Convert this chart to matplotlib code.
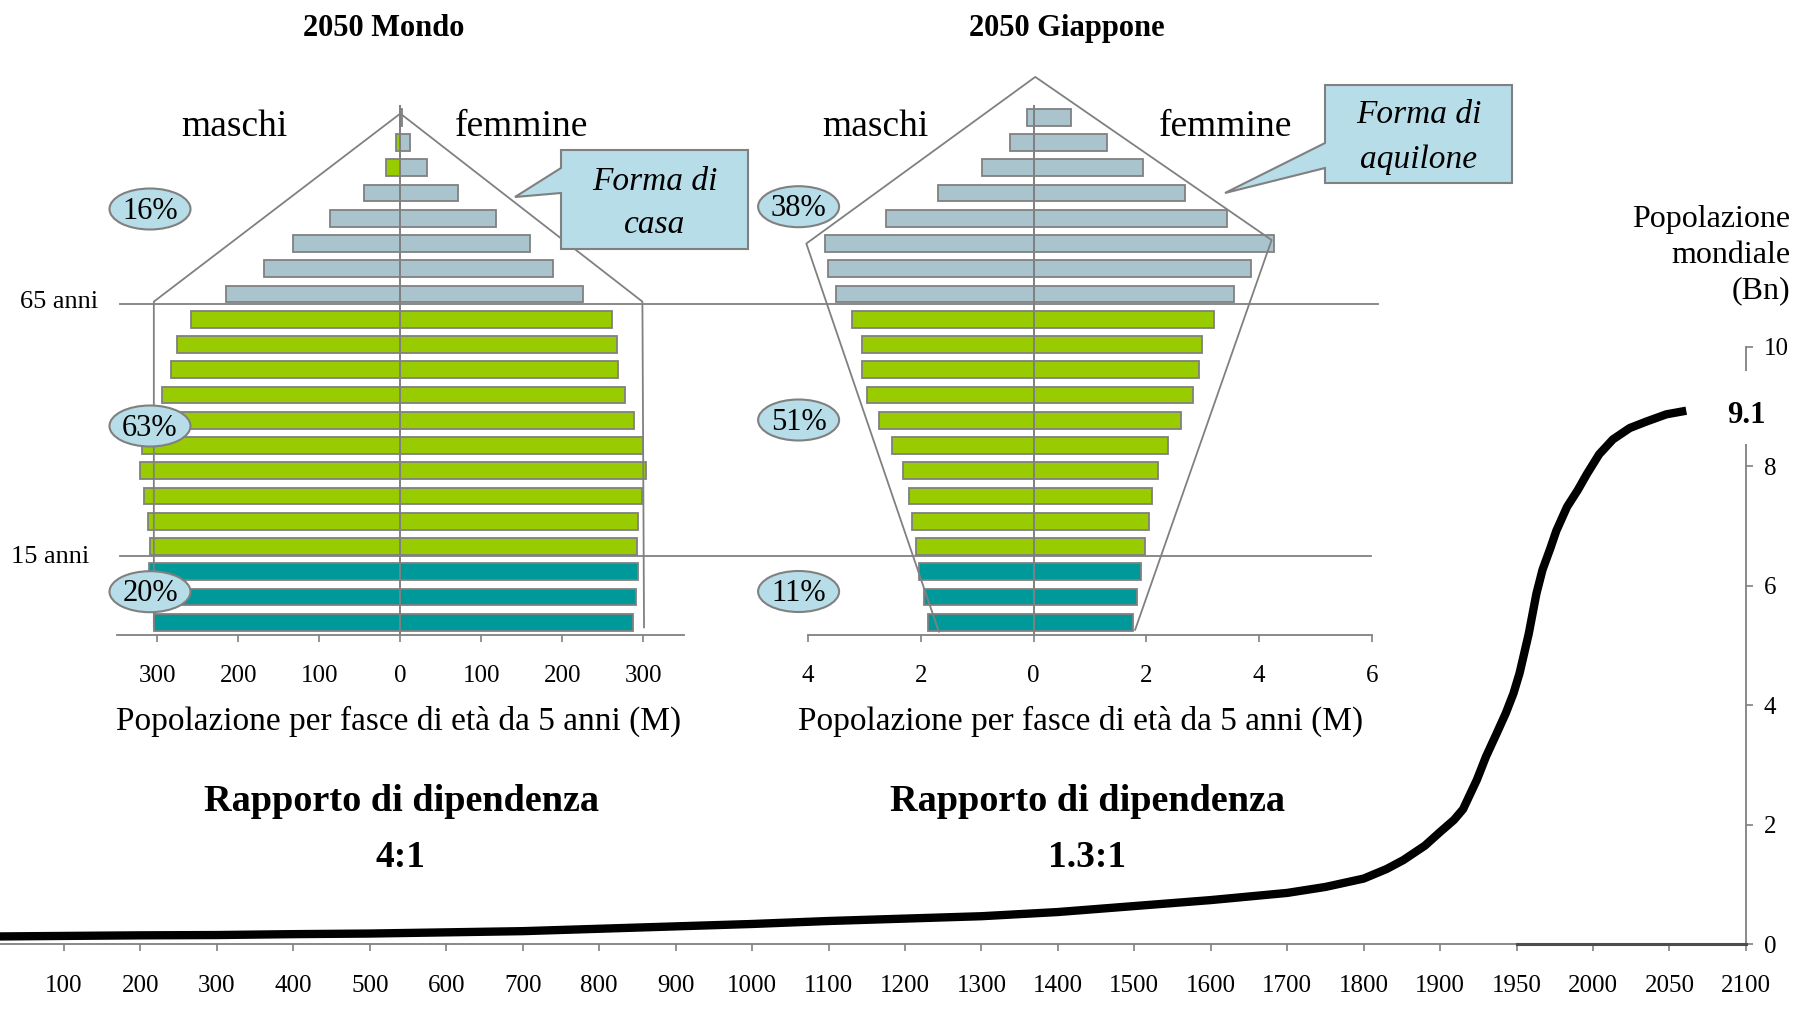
import numpy as np
import matplotlib
matplotlib.use('Agg')
import matplotlib.pyplot as plt
from matplotlib.patches import Ellipse, Polygon, Rectangle
from matplotlib.lines import Line2D
from matplotlib import transforms

plt.rcParams['font.family'] = ['Liberation Serif', 'DejaVu Serif']

# fasce di eta di 5 anni, dal basso (0-4) verso l'alto (100+)
fasce = ['0-4', '5-9', '10-14', '15-19', '20-24', '25-29', '30-34', '35-39',
         '40-44', '45-49', '50-54', '55-59', '60-64', '65-69', '70-74',
         '75-79', '80-84', '85-89', '90-94', '95-99', '100+']

# 2050 Mondo (milioni)
mondo_maschi = [304, 305, 310, 309, 312, 317, 322, 319, 305, 295, 283, 276,
                259, 215, 169, 132, 87, 45, 18, 5.5, 1]
mondo_femmine = [287, 291, 293, 292, 294, 299, 303, 300, 289, 278, 269, 267,
                 261, 226, 188, 160, 118, 71, 33, 12, 2]

# 2050 Giappone (milioni)
giap_maschi = [1.87, 1.95, 2.03, 2.09, 2.15, 2.21, 2.31, 2.51, 2.74, 2.95, 3.04,
               3.05, 3.22, 3.51, 3.64, 3.69, 2.62, 1.70, 0.92, 0.42, 0.12]
giap_femmine = [1.76, 1.84, 1.91, 1.98, 2.04, 2.10, 2.20, 2.39, 2.61, 2.83, 2.94,
                2.98, 3.19, 3.56, 3.86, 4.26, 3.43, 2.69, 1.94, 1.31, 0.66]

quote_mondo = ['20%', '63%', '16%']
quote_giap = ['11%', '51%', '38%']
rapporto_mondo = '4:1'
rapporto_giap = '1.3:1'

mondo_ticks = [-300, -200, -100, 0, 100, 200, 300]
giap_ticks = [-4, -2, 0, 2, 4, 6]

# contorni "casa" e "aquilone" (unita dei dati della piramide)
casa_x = [-304.5, -304.5, 0, 299, 301]
casa_y = [-0.2, 12.7, 20.15, 12.7, -0.2]
aquilone_x = [-1.68, -4.03, 0.03, 4.22, 1.80]
aquilone_y = [-0.37, 15.0, 21.6, 15.14, -0.3]

# popolazione mondiale (miliardi)
anni_asse = [0, 100, 200, 300, 400, 500, 600, 700, 800, 900, 1000, 1100, 1200,
             1300, 1400, 1500, 1600, 1700, 1800, 1900, 1950, 2000, 2050, 2100]
anni = [0, 100, 200, 300, 400, 500, 600, 700, 800, 900, 1000, 1100, 1200, 1300,
        1400, 1500, 1600, 1700, 1750, 1800, 1830, 1852, 1880, 1900, 1909, 1915,
        1924, 1930, 1937, 1943, 1948, 1952, 1958, 1963, 1967, 1972, 1976, 1983,
        1990, 1996, 2004, 2013, 2024, 2035, 2048, 2061]
pop = [0.13, 0.14, 0.15, 0.155, 0.17, 0.18, 0.20, 0.22, 0.26, 0.30, 0.34, 0.39,
       0.43, 0.47, 0.54, 0.64, 0.74, 0.86, 0.96, 1.10, 1.26, 1.41, 1.65, 1.88,
       2.08, 2.26, 2.75, 3.14, 3.53, 3.87, 4.20, 4.54, 5.20, 5.87, 6.27, 6.62,
       6.92, 7.32, 7.60, 7.87, 8.20, 8.45, 8.64, 8.75, 8.87, 8.93]
pop_2050 = 9.1

GRIGIO = '#808080'
AZZURRO = '#b7dde8'
VERDE = '#99cc00'
TEAL = '#009999'
GRIGIOBLU = '#aac4ce'

W, H = 1796.0, 1024.0


def fx(x):
    return x / W


def fy(y):
    return 1 - y / H


fig = plt.figure(figsize=(17.96, 10.24), dpi=100)

# ---- curva della popolazione mondiale (sotto) ----
axb = fig.add_axes([fx(-12.45), fy(944.3), 23 * 76.45 / W, (944.3 - 346.8) / H])
axb.patch.set_alpha(0)
idx = np.arange(len(anni_asse))
pos = np.interp(anni, anni_asse, idx)
axb.plot(pos, pop, color='black', lw=6, solid_joinstyle='round',
         solid_capstyle='butt', zorder=3)
axb.set_xlim(0, idx[-1])
axb.set_ylim(0, 10)
axb.set_xticks(idx)
axb.set_xticklabels([str(a) for a in anni_asse])
axb.set_yticks([0, 2, 4, 6, 8, 10])
axb.yaxis.tick_right()
for s in ['top', 'left']:
    axb.spines[s].set_visible(False)
for s in ['bottom', 'right']:
    axb.spines[s].set_color(GRIGIO)
    axb.spines[s].set_linewidth(1.3)
axb.tick_params(axis='x', length=5, width=1.2, color=GRIGIO, pad=17, labelsize=18)
axb.tick_params(axis='y', length=5, width=1.2, color=GRIGIO, pad=8, labelsize=18)
i1950 = anni_asse.index(1950)
axb.plot([i1950, idx[-1]], [0, 0], color='#4d4d4d', lw=2.2, clip_on=False, zorder=2.6)
# interruzione dell'asse dietro l'etichetta 9.1
axb.add_patch(Rectangle((idx[-1] - 0.2, 8.37), 0.4, 1.23, facecolor='white',
                        edgecolor='none', clip_on=False, zorder=5))
axb.text(idx[-1], pop[-1] - 0.08, f'{pop_2050}', ha='center', va='center',
         fontsize=22, fontweight='bold', zorder=6)


# ---- piramidi ----
def piramide(ax, maschi, femmine, ticks, xlim, contorno, verdi_maschi=()):
    n = len(maschi)
    y = np.arange(n)
    colori = [TEAL if i < 3 else VERDE if i < 13 else GRIGIOBLU for i in y]
    col_m = [VERDE if i in verdi_maschi else c for i, c in enumerate(colori)]
    ax.barh(y, -np.array(maschi), height=0.66, color=col_m, edgecolor=GRIGIO,
            linewidth=1.3, zorder=2)
    ax.barh(y, femmine, height=0.66, color=colori, edgecolor=GRIGIO,
            linewidth=1.3, zorder=2)
    ax.axvline(0, color=GRIGIO, lw=1.4, zorder=3)
    ax.plot(contorno[0], contorno[1], color=GRIGIO, lw=1.3, clip_on=False, zorder=4)
    ax.set_xlim(xlim)
    ax.set_ylim(-0.5, n - 0.5)
    ax.set_xticks(ticks)
    ax.set_xticklabels([f'{abs(t):g}' for t in ticks])
    ax.set_yticks([])
    for s in ['top', 'left', 'right']:
        ax.spines[s].set_visible(False)
    ax.spines['bottom'].set_color(GRIGIO)
    ax.spines['bottom'].set_linewidth(1.3)
    ax.tick_params(axis='x', length=5, width=1.2, color=GRIGIO, pad=17, labelsize=18)
    ax.patch.set_alpha(0)


axw = fig.add_axes([fx(117), fy(634.9), 566.7 / W, 530.2 / H])
piramide(axw, mondo_maschi, mondo_femmine, mondo_ticks, (-350, 350),
         (casa_x, casa_y), verdi_maschi=(18, 19))
axj = fig.add_axes([fx(808), fy(634.9), 564 / W, 530.2 / H])
piramide(axj, giap_maschi, giap_femmine, giap_ticks, (-4, 6),
         (aquilone_x, aquilone_y))

# linee 65 anni / 15 anni
tr = transforms.blended_transform_factory(fig.transFigure, axw.transData)
soglie = [(fasce.index('65-69') - 0.38, 1378, '65 anni', 98, 308),
          (fasce.index('15-19') - 0.38, 1371, '15 anni', 89, 563)]
for yy, xend, lab, xl, yl in soglie:
    fig.add_artist(Line2D([fx(120), fx(xend)], [yy, yy], transform=tr,
                          color=GRIGIO, lw=1.3, zorder=1.5))
    fig.text(fx(xl), fy(yl), lab, ha='right', va='baseline', fontsize=19)

# percentuali nelle ellissi
for cx, cys, quote in [(150, [591.7, 426, 209], quote_mondo),
                       (798.6, [591.5, 420, 206.7], quote_giap)]:
    for cy, q in zip(cys, quote):
        fig.add_artist(Ellipse((fx(cx), fy(cy)), 81 / W, 41 / H,
                               transform=fig.transFigure, facecolor=AZZURRO,
                               edgecolor=GRIGIO, lw=1.5, zorder=4))
        fig.text(fx(cx), fy(cy + 9.6), q, ha='center', va='baseline',
                 fontsize=22, zorder=5)


# fumetti
def fumetto(box, base, punta, righe, baselines):
    x0, y0, x1, y1 = box
    pts = [(x0, y0), (x1, y0), (x1, y1), (x0, y1), (x0, base[1]), punta, (x0, base[0])]
    fig.add_artist(Polygon([(fx(a), fy(b)) for a, b in pts], closed=True,
                           transform=fig.transFigure, facecolor=AZZURRO,
                           edgecolor=GRIGIO, lw=1.5, zorder=4))
    cx = (x0 + x1) / 2
    for r, b in zip(righe, baselines):
        fig.text(fx(cx), fy(b), r, ha='center', va='baseline', fontsize=24,
                 style='italic', zorder=5)


fumetto((561, 150, 748, 249), (168, 193), (515, 197), ['Forma di', 'casa'], [190, 233])
fumetto((1325, 85, 1512, 183), (143, 168), (1225, 193), ['Forma di', 'aquilone'], [123, 168])

# testi
fig.text(fx(384), fy(36), '2050 Mondo', ha='center', va='baseline', fontsize=22, fontweight='bold')
fig.text(fx(1067), fy(36), '2050 Giappone', ha='center', va='baseline', fontsize=22, fontweight='bold')
for x, s in [(234, 'maschi'), (522, 'femmine'), (875, 'maschi'), (1226, 'femmine')]:
    fig.text(fx(x), fy(136), s, ha='center', va='baseline', fontsize=27)
for x in [399, 1081]:
    fig.text(fx(x), fy(730), 'Popolazione per fasce di età da 5 anni (M)',
             ha='center', va='baseline', fontsize=24)
for x, r in [(401, rapporto_mondo), (1087, rapporto_giap)]:
    fig.text(fx(x), fy(811), 'Rapporto di dipendenza', ha='center', va='baseline',
             fontsize=27.5, fontweight='bold')
    fig.text(fx(x), fy(867), r, ha='center', va='baseline', fontsize=27, fontweight='bold')
for s, b in [('Popolazione', 226.7), ('mondiale', 263.3), ('(Bn)', 298)]:
    fig.text(fx(1790.7), fy(b), s, ha='right', va='baseline', fontsize=23)

fig.savefig('out.png', dpi=100)
